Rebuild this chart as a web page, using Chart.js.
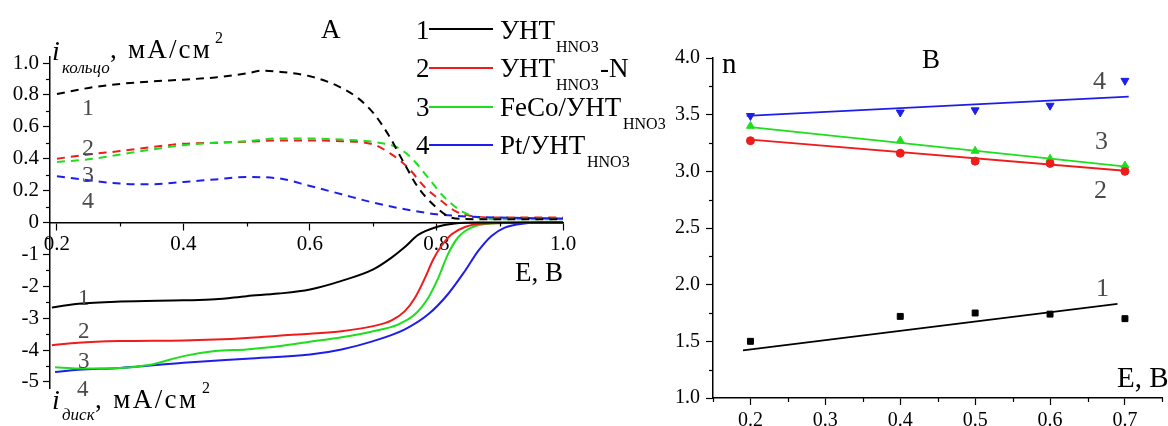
<!DOCTYPE html>
<html><head><meta charset="utf-8">
<script src="https://cdn.jsdelivr.net/npm/chart.js@4.4.1/dist/chart.umd.min.js"></script>
<style>
html,body{margin:0;padding:0;background:#fff;}
body{width:1168px;height:426px;overflow:hidden;position:relative;font-family:'Liberation Serif',serif;}
#ca{position:absolute;left:0;top:0;}
#cb{position:absolute;left:600px;top:0;}
.t{position:absolute;white-space:nowrap;line-height:1;color:#000;font-family:'Liberation Serif',serif;}
.ln{position:absolute;height:0;border-top:2px solid #000;}
</style></head><body>
<canvas id="ca" width="600" height="426"></canvas>
<canvas id="cb" width="568" height="426"></canvas>
<script>
// ---------- Panel A data (E, V vs current) ----------
const ring1E = [0.20,0.25,0.30,0.35,0.40,0.45,0.50,0.524,0.55,0.60,0.645,0.676,0.70,0.724,0.747,0.771,0.80,0.824,0.845,0.90,1.00];
const ring1I = [0.806,0.844,0.869,0.885,0.896,0.91,0.935,0.952,0.946,0.917,0.854,0.78,0.6875,0.55,0.385,0.22,0.094,0.03,0.022,0.02,0.02];
const ring2E = [0.20,0.25,0.30,0.35,0.40,0.45,0.50,0.55,0.60,0.65,0.70,0.729,0.755,0.782,0.808,0.829,0.853,0.892,1.00];
const ring2I = [0.40,0.427,0.448,0.473,0.494,0.50,0.506,0.515,0.515,0.51,0.49,0.427,0.344,0.22,0.135,0.073,0.042,0.031,0.031];
const ring3E = [0.20,0.25,0.30,0.35,0.40,0.45,0.50,0.55,0.60,0.65,0.70,0.739,0.76,0.787,0.813,0.839,0.866,0.892,1.00];
const ring3I = [0.38,0.396,0.427,0.458,0.485,0.50,0.51,0.527,0.527,0.52,0.506,0.469,0.406,0.28,0.156,0.073,0.031,0.02,0.02];
const ring4E = [0.20,0.25,0.30,0.35,0.40,0.45,0.50,0.55,0.60,0.65,0.70,0.75,0.80,0.85,0.90,1.00];
const ring4I = [0.29,0.265,0.244,0.24,0.254,0.27,0.285,0.277,0.229,0.177,0.125,0.083,0.052,0.0375,0.031,0.025];

const disk1E = [0.192,0.20,0.234,0.30,0.40,0.45,0.50,0.55,0.60,0.65,0.70,0.729,0.75,0.771,0.80,0.829,0.866,1.00];
const disk1I = [-2.67,-2.64,-2.55,-2.48,-2.44,-2.41,-2.31,-2.23,-2.10,-1.83,-1.47,-1.10,-0.77,-0.39,-0.14,-0.03,0,0];
const disk2E = [0.192,0.234,0.30,0.40,0.45,0.50,0.55,0.60,0.65,0.70,0.729,0.75,0.766,0.782,0.795,0.808,0.824,0.845,0.876,1.00];
const disk2I = [-3.85,-3.77,-3.72,-3.70,-3.67,-3.62,-3.55,-3.49,-3.41,-3.25,-3.07,-2.78,-2.36,-1.73,-1.15,-0.73,-0.37,-0.14,-0.03,0];
const disk3E = [0.197,0.234,0.30,0.35,0.40,0.45,0.50,0.55,0.60,0.65,0.70,0.739,0.766,0.787,0.803,0.818,0.834,0.855,0.887,1.00];
const disk3I = [-4.54,-4.58,-4.56,-4.45,-4.19,-4.03,-3.98,-3.88,-3.74,-3.60,-3.41,-3.20,-2.88,-2.36,-1.73,-1.0,-0.47,-0.16,-0.03,0];
const disk4E = [0.197,0.234,0.30,0.40,0.50,0.60,0.65,0.70,0.75,0.787,0.818,0.845,0.866,0.887,0.908,0.939,0.971,1.00];
const disk4I = [-4.69,-4.62,-4.56,-4.40,-4.27,-4.14,-3.98,-3.72,-3.35,-2.88,-2.25,-1.52,-0.89,-0.42,-0.16,-0.03,0,0];

// axis ticks, panel A (left axis in disk units; ring = disk/5)
const aXTicks = [0.2,0.4,0.6,0.8,1.0];
const aXMinor = [0.3,0.5,0.7,0.9];
const aYTicks = [-5,-4,-3,-2,-1,0,1,2,3,4,5];
const aYMinor = [-4.5,-3.5,-2.5,-1.5,-0.5,0.5,1.5,2.5,3.5,4.5];

// ---------- Panel B data (n vs E) ----------
const bE  = [0.2,0.4,0.5,0.6,0.7];
const bN1 = [1.50,1.72,1.75,1.74,1.70];
const bN2 = [3.27,3.16,3.09,3.07,3.00];
const bN3 = [3.40,3.27,3.18,3.11,3.05];
const bN4 = [3.49,3.52,3.54,3.58,3.80];
const fit1E = [0.19,0.69],  fit1N = [1.42,1.83];
const fit2E = [0.2,0.7],    fit2N = [3.28,3.005];
const fit3E = [0.2,0.705],  fit3N = [3.39,3.04];
const fit4E = [0.195,0.705],fit4N = [3.49,3.66];
const bXTicks = [0.2,0.3,0.4,0.5,0.6,0.7];
const bXMinor = [0.15,0.25,0.35,0.45,0.55,0.65,0.75];
const bYTicks = [1.0,1.5,2.0,2.5,3.0,3.5,4.0];
const bYMinor = [1.25,1.75,2.25,2.75,3.25,3.75];

const C_BLACK='#000000', C_RED='#ee1c1c', C_GREEN='#1ede1e', C_BLUE='#1e1eea';
const FONT = "'Liberation Serif', serif";

const pts = (xs, ys) => xs.map((x,i)=>({x, y: ys[i]}));

const minorTicks = {
  id:'minorTicks',
  afterDraw(chart, args, opts){
    const ctx = chart.ctx, ca = chart.chartArea;
    ctx.save(); ctx.strokeStyle='#000'; ctx.lineWidth=1.2;
    (opts.list||[]).forEach(m=>{
      const s = chart.scales[m.scale];
      m.values.forEach(v=>{
        const p = Math.round(s.getPixelForValue(v))+0.5;
        ctx.beginPath();
        if (s.isHorizontal()){
          const y0 = m.atScale ? chart.scales[m.atScale].getPixelForValue(m.at) : ca.bottom;
          ctx.moveTo(p, y0); ctx.lineTo(p, y0 + m.len);
        } else {
          ctx.moveTo(ca.left, p); ctx.lineTo(ca.left - m.len, p);
        }
        ctx.stroke();
      });
    });
    ctx.restore();
  }
};

const setTicks = arr => s => { s.ticks = arr.map(v=>({value:v})); };
const gridOpt = {drawOnChartArea:false, drawTicks:true, tickLength:7, color:'#000', tickWidth:1.2};
const borderOpt = {display:true, color:'#000', width:1.5};

function lineDs(xs, ys, color, axis, dashed){
  return {data: pts(xs, ys), borderColor: color, borderWidth: 2, pointRadius: 0,
    borderDash: dashed ? [8,6] : [], yAxisID: axis, cubicInterpolationMode:'monotone', fill:false};
}

function build(){
new Chart(document.getElementById('ca'), {
  type:'line',
  data:{datasets:[
    lineDs(disk1E, disk1I, C_BLACK, 'y', false),
    lineDs(disk2E, disk2I, C_RED, 'y', false),
    lineDs(disk3E, disk3I, C_GREEN, 'y', false),
    lineDs(disk4E, disk4I, C_BLUE, 'y', false),
    lineDs(ring1E, ring1I, C_BLACK, 'yr', true),
    lineDs(ring4E, ring4I, C_BLUE, 'yr', true),
    lineDs(ring3E, ring3I, C_GREEN, 'yr', true),
    lineDs(ring2E, ring2I, C_RED, 'yr', true)
  ]},
  options:{
    responsive:false, animation:false, devicePixelRatio:1,
    layout:{padding:{left:0, top:57, right:37, bottom:38}},
    plugins:{legend:{display:false}, tooltip:{enabled:false},
      minorTicks:{list:[
        {scale:'y', values:aYMinor, len:4},
        {scale:'x', values:aXMinor, len:4, atScale:'y', at:0}
      ]}},
    scales:{
      x:{type:'linear', min:0.189, max:1.0, position:{y:0},
        afterBuildTicks:setTicks(aXTicks),
        ticks:{callback:v=>v.toFixed(1), font:{family:FONT, size:21}, color:'#000', padding:2, maxRotation:0, autoSkip:false},
        grid:gridOpt, border:borderOpt},
      y:{type:'linear', min:-5.19, max:5.19, position:'left',
        afterFit:s=>{s.width=50;},
        afterBuildTicks:setTicks(aYTicks),
        ticks:{callback:v=> v>0 ? (v/5).toFixed(1) : String(v), font:{family:FONT, size:21}, color:'#000', padding:4, autoSkip:false},
        grid:gridOpt, border:borderOpt},
      yr:{type:'linear', min:-1.038, max:1.038, display:false}
    }
  },
  plugins:[minorTicks]
});

function markDs(ys, color, style, radius, rot){
  return {type:'scatter', data: pts(bE, ys), showLine:false, pointStyle:style, pointRadius:radius,
    pointRotation: rot||0, backgroundColor:color, borderColor:color, borderWidth:1};
}
function fitDs(xs, ys, color){
  return {type:'line', data: pts(xs, ys), borderColor:color, borderWidth:1.8, pointRadius:0, fill:false};
}

new Chart(document.getElementById('cb'), {
  type:'scatter',
  data:{datasets:[
    fitDs(fit1E, fit1N, C_BLACK), fitDs(fit2E, fit2N, C_RED),
    fitDs(fit3E, fit3N, C_GREEN), fitDs(fit4E, fit4N, C_BLUE),
    markDs(bN1, C_BLACK, 'rect', 4.2),
    markDs(bN2, C_RED, 'circle', 4),
    markDs(bN3, C_GREEN, 'triangle', 4.6),
    markDs(bN4, C_BLUE, 'triangle', 4.6, 180)
  ]},
  options:{
    responsive:false, animation:false, devicePixelRatio:1,
    layout:{padding:{left:0, top:58, right:1, bottom:0}},
    plugins:{legend:{display:false}, tooltip:{enabled:false},
      minorTicks:{list:[
        {scale:'y', values:bYMinor, len:4},
        {scale:'x', values:bXMinor, len:4}
      ]}},
    scales:{
      x:{type:'linear', min:0.15, max:0.75, position:'bottom',
        afterFit:s=>{s.height=28;},
        afterBuildTicks:setTicks(bXTicks),
        ticks:{callback:v=>v.toFixed(1), font:{family:FONT, size:20}, color:'#000', padding:4, maxRotation:0, autoSkip:false},
        grid:gridOpt, border:borderOpt},
      y:{type:'linear', min:1, max:4, position:'left',
        afterFit:s=>{s.width=113;},
        afterBuildTicks:setTicks(bYTicks),
        ticks:{callback:v=>v.toFixed(1), font:{family:FONT, size:20}, color:'#000', padding:6, autoSkip:false},
        grid:gridOpt, border:borderOpt}
    }
  },
  plugins:[minorTicks]
});
}

// ---------- text overlays ----------
const GRAY = '#4a4a4a';
const texts = [
  // [text, left, baseline, size, italic, color, letterSpacing]
  ['A', 321, 39, 27, false],
  ['B', 922, 69, 27, false],
  ['n', 722, 73, 29, false],
  ['E, B', 515, 282, 27, false],
  ['E, B', 1117, 387, 29, false],
  ['i', 52, 60, 28, true],
  ['кольцо', 62, 73, 17, true],
  [', мА/см', 110, 59, 27, false, null, 2.2],
  ['2', 215, 43, 16, false],
  ['i', 52, 409, 28, true],
  ['диск', 62, 420, 17, true],
  [', мА/см', 95, 409, 27, false, null, 2.4],
  ['2', 202, 393, 16, false],
  ['1', 416, 40, 27, false], ['УНТ', 500, 40, 27, false], ['HNO3', 556, 52, 16, false],
  ['2', 416, 78, 27, false], ['УНТ', 500, 78, 27, false], ['HNO3', 556, 90, 16, false], ['-N', 600, 78, 27, false],
  ['3', 416, 117, 27, false], ['FeCo/УНТ', 500, 117, 27, false], ['HNO3', 623, 129, 16, false],
  ['4', 416, 155, 27, false], ['Pt/УНТ', 500, 155, 27, false], ['HNO3', 587, 167, 16, false],
  ['1', 82, 115, 24, false, GRAY], ['2', 82, 155, 24, false, GRAY],
  ['3', 82, 182, 24, false, GRAY], ['4', 82, 208, 24, false, GRAY],
  ['1', 78, 305, 23, false, GRAY], ['2', 78, 338, 23, false, GRAY],
  ['3', 78, 368, 23, false, GRAY], ['4', 77, 396, 23, false, GRAY],
  ['4', 1093, 90, 26, false, GRAY], ['3', 1095, 150, 26, false, GRAY],
  ['2', 1094, 199, 26, false, GRAY], ['1', 1096, 297, 26, false, GRAY]
];
texts.forEach(([s, l, b, f, it, col, ls])=>{
  const d = document.createElement('div');
  d.className = 't';
  d.textContent = s;
  d.style.left = l + 'px';
  d.style.top = (b - 0.8375*f) + 'px';
  d.style.fontSize = f + 'px';
  if (it) d.style.fontStyle = 'italic';
  if (col) d.style.color = col;
  if (ls) d.style.letterSpacing = ls + 'px';
  document.body.appendChild(d);
});
const legendLines = [[429, 29, C_BLACK],[429, 68, C_RED],[429, 107, C_GREEN],[429, 145, C_BLUE]];
legendLines.forEach(([l, y, c])=>{
  const d = document.createElement('div');
  d.className = 'ln';
  d.style.left = l + 'px'; d.style.top = (y-1) + 'px'; d.style.width = '64px';
  d.style.borderTopColor = c;
  document.body.appendChild(d);
});
if (document.fonts && document.fonts.load) {
  Promise.all([document.fonts.load("21px 'Liberation Serif'"), document.fonts.load("italic 21px 'Liberation Serif'")]).then(build, build);
} else build();
</script>
</body></html>
